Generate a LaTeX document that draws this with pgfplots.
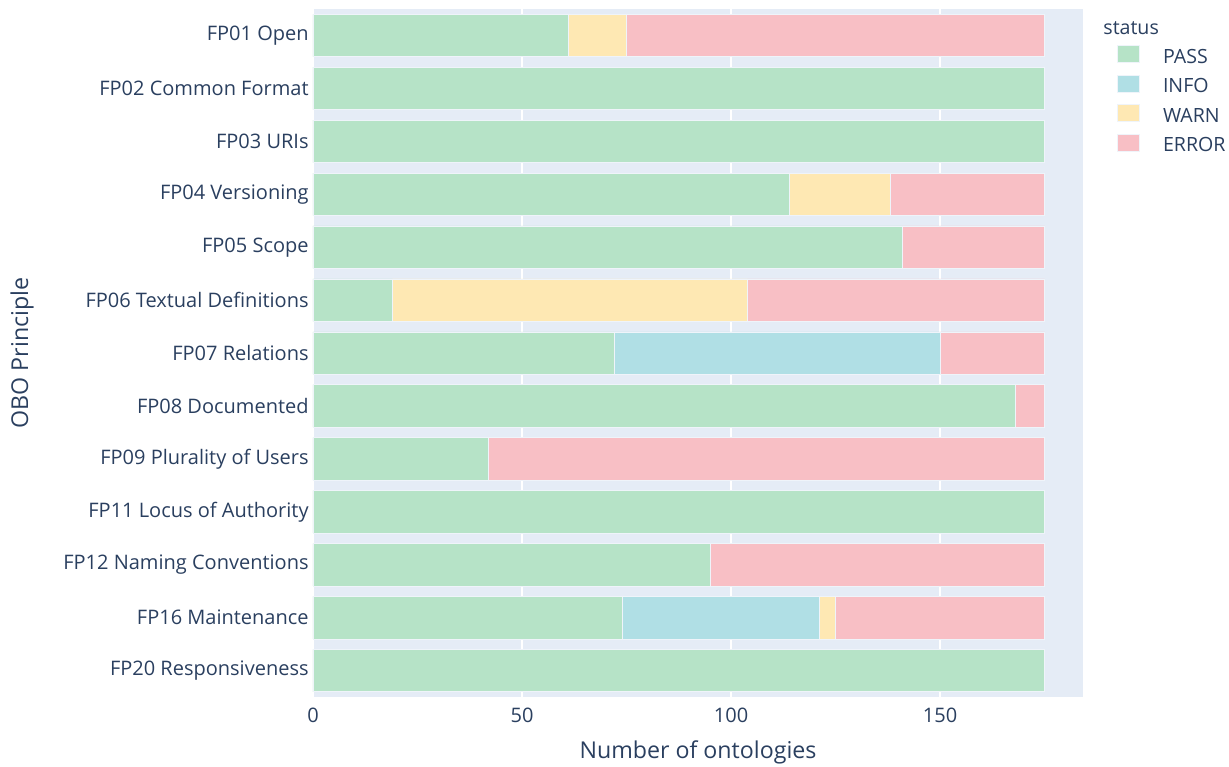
\documentclass[border=0pt]{standalone}
\usepackage{fontspec}
\setmainfont{Open Sans}
\usepackage{pgfplots}
\usepackage{pgfplotstable}
\pgfplotsset{compat=1.18}
\definecolor{bg}{HTML}{E5ECF6}
\definecolor{txt}{HTML}{2A3F5F}
\definecolor{cpass}{HTML}{B6E3C7}
\definecolor{cinfo}{HTML}{B0DFE5}
\definecolor{cwarn}{HTML}{FEE8B3}
\definecolor{cerror}{HTML}{F8BFC5}
\pgfplotstableread{
idx pass info warn error
0 61 0 14 100
1 175 0 0 0
2 175 0 0 0
3 114 0 24 37
4 141 0 0 34
5 19 0 85 71
6 72 78 0 25
7 168 0 0 7
8 42 0 0 133
9 175 0 0 0
10 95 0 0 80
11 74 47 4 50
12 175 0 0 0
}\data
\begin{document}
\begin{tikzpicture}
\begin{axis}[
  name=ax,
  at={(0,0)}, anchor=south west,
  scale only axis, width=385pt, height=344pt,
  xbar stacked, bar width=21.2pt,
  y dir=reverse,
  xmin=0, xmax=184.2, ymin=-0.5, ymax=12.5,
  axis background/.style={fill=bg},
  axis line style={draw=none},
  major tick length=0pt,
  xtick={0,50,100,150},
  xmajorgrids, grid style={white, line width=0.7pt},
  ytick={0,...,12},
  yticklabels={FP01 Open,FP02 Common Format,FP03 URIs,FP04 Versioning,FP05 Scope,FP06 Textual Definitions,FP07 Relations,FP08 Documented,FP09 Plurality of Users,FP11 Locus of Authority,FP12 Naming Conventions,FP16 Maintenance,FP20 Responsiveness},
  /pgf/number format/assume math mode=true,
  tick label style={font=\fontsize{10}{12}\selectfont, text=txt, inner sep=0pt},
  yticklabel style={anchor=east, xshift=-2pt},
  xticklabel style={anchor=north, yshift=-5.5pt},
  every axis x label/.style={at={(axis description cs:0.5,0)}, anchor=center, yshift=-27.5pt, font=\fontsize{11.6}{13}\selectfont, text=txt},
  every axis y label/.style={at={(axis description cs:0,0.5)}, xshift=-145.5pt, rotate=90, anchor=center, font=\fontsize{11.6}{13}\selectfont, text=txt},
  xlabel={Number of ontologies}, ylabel={OBO Principle},
  legend style={at={(axis description cs:1,1)}, anchor=north west, xshift=17pt, yshift=-18pt, draw=none, fill=none, inner sep=0pt, row sep=3.8pt, column sep=11.5pt, nodes={inner sep=0pt, text height=6.5pt, text depth=2pt, font=\fontsize{9.8}{11}\selectfont, text=txt}},
  legend cell align=left,
  legend image code/.code={\fill[#1] (0pt,-2pt) rectangle (11pt,6.5pt);},
  every axis plot/.append style={draw=white!40!bg, line width=0.3pt},
]
\addplot[fill=cpass] table[x=pass, y=idx] {\data};
\addplot[fill=cinfo] table[x=info, y=idx] {\data};
\addplot[fill=cwarn] table[x=warn, y=idx] {\data};
\addplot[fill=cerror] table[x=error, y=idx] {\data};
\legend{PASS,INFO,WARN,ERROR}
\end{axis}
\node[anchor=base west, font=\fontsize{9.8}{11}\selectfont, text=txt, inner sep=0pt] at ([xshift=10pt,yshift=-13pt]ax.north east) {status};
\pgfresetboundingbox
\path (-156.5pt,-34.5pt) rectangle (458pt,348.5pt);
\end{tikzpicture}
\end{document}
